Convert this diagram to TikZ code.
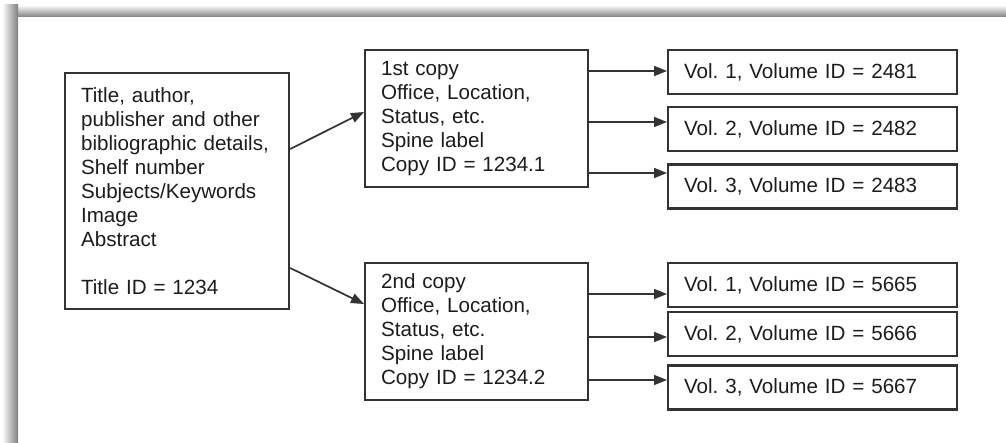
\documentclass[tikz,border=0pt]{standalone}
\usepackage{fontspec}
\setmainfont{Liberation Sans}
\frenchspacing
\usetikzlibrary{arrows.meta,positioning}
\definecolor{boxline}{HTML}{333333}
\definecolor{boxtext}{HTML}{1C1C1C}

\begin{document}
\begin{tikzpicture}[x=1pt, y=-1pt,
  recbox/.style={draw=boxline, line width=2.2pt, anchor=north west, inner xsep=16pt, inner ysep=0pt, align=left, text=boxtext, font=\fontsize{20.6}{24}\selectfont},
  titlebox/.style={recbox, text width=192pt, minimum height=236pt},
  copybox/.style={recbox, text width=191pt, minimum height=137pt},
  volbox/.style={recbox, text width=257pt, minimum height=44pt},
  arr/.style={-{Triangle[length=13pt, width=10pt]}, line width=1.7pt, boxline}
]
  \useasboundingbox (0,0) rectangle (1006,443);
  % page frame with soft shadow
  \shade[top color=white, bottom color=black!50] (6,5) rectangle (1006,17);
  \shade[left color=white, right color=black!50] (2,5) rectangle (18,443);

  \node[titlebox] (t) at (64,72) {Title, author,\\publisher and other\\bibliographic details,\\Shelf number\\Subjects/Keywords\\Image\\Abstract\\[24pt]Title ID = 1234};

  \node[copybox] (c1) at (364,49) {1st copy\\Office, Location,\\Status, etc.\\Spine label\\Copy ID = 1234.1};
  \node[copybox] (c2) at (364,262) {2nd copy\\Office, Location,\\Status, etc.\\Spine label\\Copy ID = 1234.2};

  \node[volbox] (v11) at (667,49) {Vol. 1, Volume ID = 2481};
  \node[volbox, below=11pt of v11] (v12) {Vol. 2, Volume ID = 2482};
  \node[volbox, below=11pt of v12] (v13) {Vol. 3, Volume ID = 2483};

  \node[volbox] (v21) at (667,262) {Vol. 1, Volume ID = 5665};
  \node[volbox, below=3pt of v21] (v22) {Vol. 2, Volume ID = 5666};
  \node[volbox, below=7pt of v22] (v23) {Vol. 3, Volume ID = 5667};

  \draw[arr] (t.east |- 0,149) -- (c1.west |- 0,112);
  \draw[arr] (t.east |- 0,268) -- (c2.west |- 0,304);

  \draw[arr] (c1.east |- 0,71) -- (v11.west |- 0,71);
  \draw[arr] (c1.east |- 0,122) -- (v12.west |- 0,122);
  \draw[arr] (c1.east |- 0,173) -- (v13.west |- 0,173);

  \draw[arr] (c2.east |- 0,294) -- (v21.west |- 0,294);
  \draw[arr] (c2.east |- 0,337) -- (v22.west |- 0,337);
  \draw[arr] (c2.east |- 0,380) -- (v23.west |- 0,380);
\end{tikzpicture}
\end{document}
